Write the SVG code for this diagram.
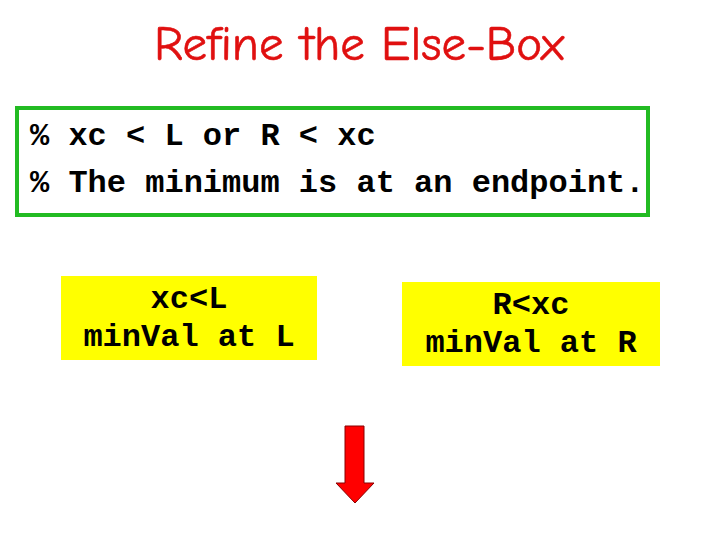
<svg xmlns="http://www.w3.org/2000/svg" width="720" height="540" viewBox="0 0 720 540">
<style>
.mono{font-family:"Liberation Mono","Courier New",monospace;font-weight:bold;font-size:32px;fill:#000}
.yb{fill:#ffff00}
</style>
<rect width="720" height="540" fill="#fff"/>
<text x="359" y="60" text-anchor="middle" font-family="'Comic Neue','DejaVu Sans',sans-serif" font-size="49" fill="#e01010" stroke="#e01010" stroke-width="0.6">Refine the Else-Box</text>
<g id="note">
<rect x="17" y="108" width="631" height="107" fill="#fff" stroke="#22bb22" stroke-width="4"/>
<text class="mono" x="30" y="145" xml:space="preserve">% xc &lt; L or R &lt; xc</text>
<text class="mono" x="30" y="192">% The minimum is at an endpoint.</text>
</g>
<g id="left">
<rect class="yb" x="61" y="276" width="256" height="84"/>
<text class="mono" x="189" y="308" text-anchor="middle">xc&lt;L</text>
<text class="mono" x="189" y="346" text-anchor="middle">minVal at L</text>
</g>
<g id="right">
<rect class="yb" x="402" y="282" width="258" height="84"/>
<text class="mono" x="531" y="314" text-anchor="middle">R&lt;xc</text>
<text class="mono" x="531" y="352" text-anchor="middle">minVal at R</text>
</g>
<g id="connectors">
<polygon points="345,426 364,426 364,483 374,483 355,503 336,483 345,483" fill="#ff0000" stroke="#880000" stroke-width="1"/>
</g>
</svg>
